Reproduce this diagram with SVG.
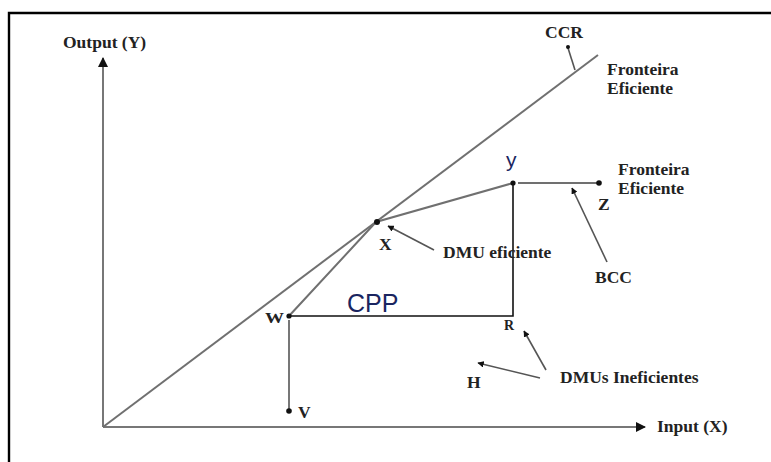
<svg xmlns="http://www.w3.org/2000/svg" width="771" height="462" viewBox="0 0 771 462">
  <style>
    .lbl { font-family: "Liberation Serif", "Times New Roman", "DejaVu Serif", serif; font-weight: bold; font-size: 17.5px; fill: #222; }
    .sm { font-size: 14px; }
    .sans { font-family: "Liberation Sans", Arial, sans-serif; fill: #1a2560; }
    .gray { stroke: #707070; stroke-width: 2; fill: none; }
    .blk { stroke: #111; stroke-width: 1.6; fill: none; }
    .ptr { stroke: #555; stroke-width: 1.6; fill: none; marker-end: url(#tip); }
    .dot { fill: #111; }
  </style>
  <defs>
    <marker id="tip" viewBox="0 0 10 10" refX="9" refY="5" markerWidth="4" markerHeight="4" orient="auto">
      <path d="M0,0 L10,5 L0,10 z" fill="#111"/>
    </marker>
    <marker id="axtip" viewBox="0 0 10 10" refX="9" refY="5" markerWidth="5" markerHeight="5" orient="auto">
      <path d="M0,0 L10,5 L0,10 z" fill="#111"/>
    </marker>
  </defs>

  <rect width="771" height="462" fill="#fff"/>
  <!-- frame (top and left edges) -->
  <path d="M9,462 L9,13 L771,13" stroke="#000" stroke-width="2.4" fill="none"/>

  <!-- axes -->
  <g id="axes">
    <line x1="103" y1="427" x2="103" y2="58" stroke="#777" stroke-width="2" marker-end="url(#axtip)"/>
    <line x1="103" y1="427" x2="645" y2="427" stroke="#777" stroke-width="2" marker-end="url(#axtip)"/>
    <text class="lbl" x="63" y="48">Output (Y)</text>
    <text class="lbl" x="657" y="432">Input (X)</text>
  </g>

  <g id="connectors">
    <!-- CCR frontier -->
    <line class="gray" x1="103" y1="427" x2="598" y2="55"/>
    <!-- BCC frontier -->
    <polyline class="gray" points="289,316 376,222 513,183"/>
    <line class="gray" x1="518" y1="183" x2="599" y2="183"/>
    <!-- CPP lines -->
    <polyline class="blk" points="289,316 513,316 513,183"/>
    <line x1="289" y1="320" x2="289" y2="411" stroke="#777" stroke-width="2"/>
    <!-- label pointers -->
    <line x1="575" y1="70" x2="568" y2="48" stroke="#555" stroke-width="1.6"/>
    <line class="ptr" x1="434" y1="250" x2="388" y2="226"/>
    <line class="ptr" x1="607" y1="262" x2="572" y2="188"/>
    <line class="ptr" x1="546" y1="370" x2="524" y2="331"/>
    <line class="ptr" x1="540" y1="378" x2="478" y2="363"/>
  </g>

  <g id="ccr">
    <circle class="dot" cx="568" cy="47" r="2"/>
    <text class="lbl" x="545" y="38">CCR</text>
    <text class="lbl" x="607" y="75">Fronteira</text>
    <text class="lbl" x="607" y="94">Eficiente</text>
  </g>

  <g id="bcc">
    <text class="lbl" x="618" y="175">Fronteira</text>
    <text class="lbl" x="618" y="194">Eficiente</text>
    <text class="lbl" x="595" y="283">BCC</text>
  </g>

  <g id="node-x">
    <circle class="dot" cx="377" cy="222" r="3"/>
    <text class="lbl" x="379" y="250">X</text>
    <text class="lbl" x="443" y="258">DMU eficiente</text>
  </g>

  <g id="node-y">
    <circle class="dot" cx="513" cy="183" r="2.6"/>
    <text class="sans" x="506" y="167" font-size="21">y</text>
  </g>

  <g id="node-z">
    <circle class="dot" cx="599" cy="183" r="2.8"/>
    <text class="lbl" x="598" y="210">Z</text>
  </g>

  <g id="node-w">
    <circle class="dot" cx="289" cy="316" r="2.6"/>
    <text class="lbl sm" x="265" y="323" textLength="19" lengthAdjust="spacingAndGlyphs">W</text>
  </g>

  <g id="node-v">
    <circle class="dot" cx="289" cy="411" r="2.8"/>
    <text class="lbl" x="298" y="418">V</text>
  </g>

  <g id="node-r">
    <text class="lbl sm" x="504" y="330">R</text>
  </g>

  <g id="node-h">
    <text class="lbl" x="467" y="388">H</text>
  </g>

  <g id="cpp">
    <text class="sans" x="347" y="312" font-size="25">CPP</text>
  </g>

  <g id="ineficientes">
    <text class="lbl" x="560" y="383">DMUs Ineficientes</text>
  </g>
</svg>
